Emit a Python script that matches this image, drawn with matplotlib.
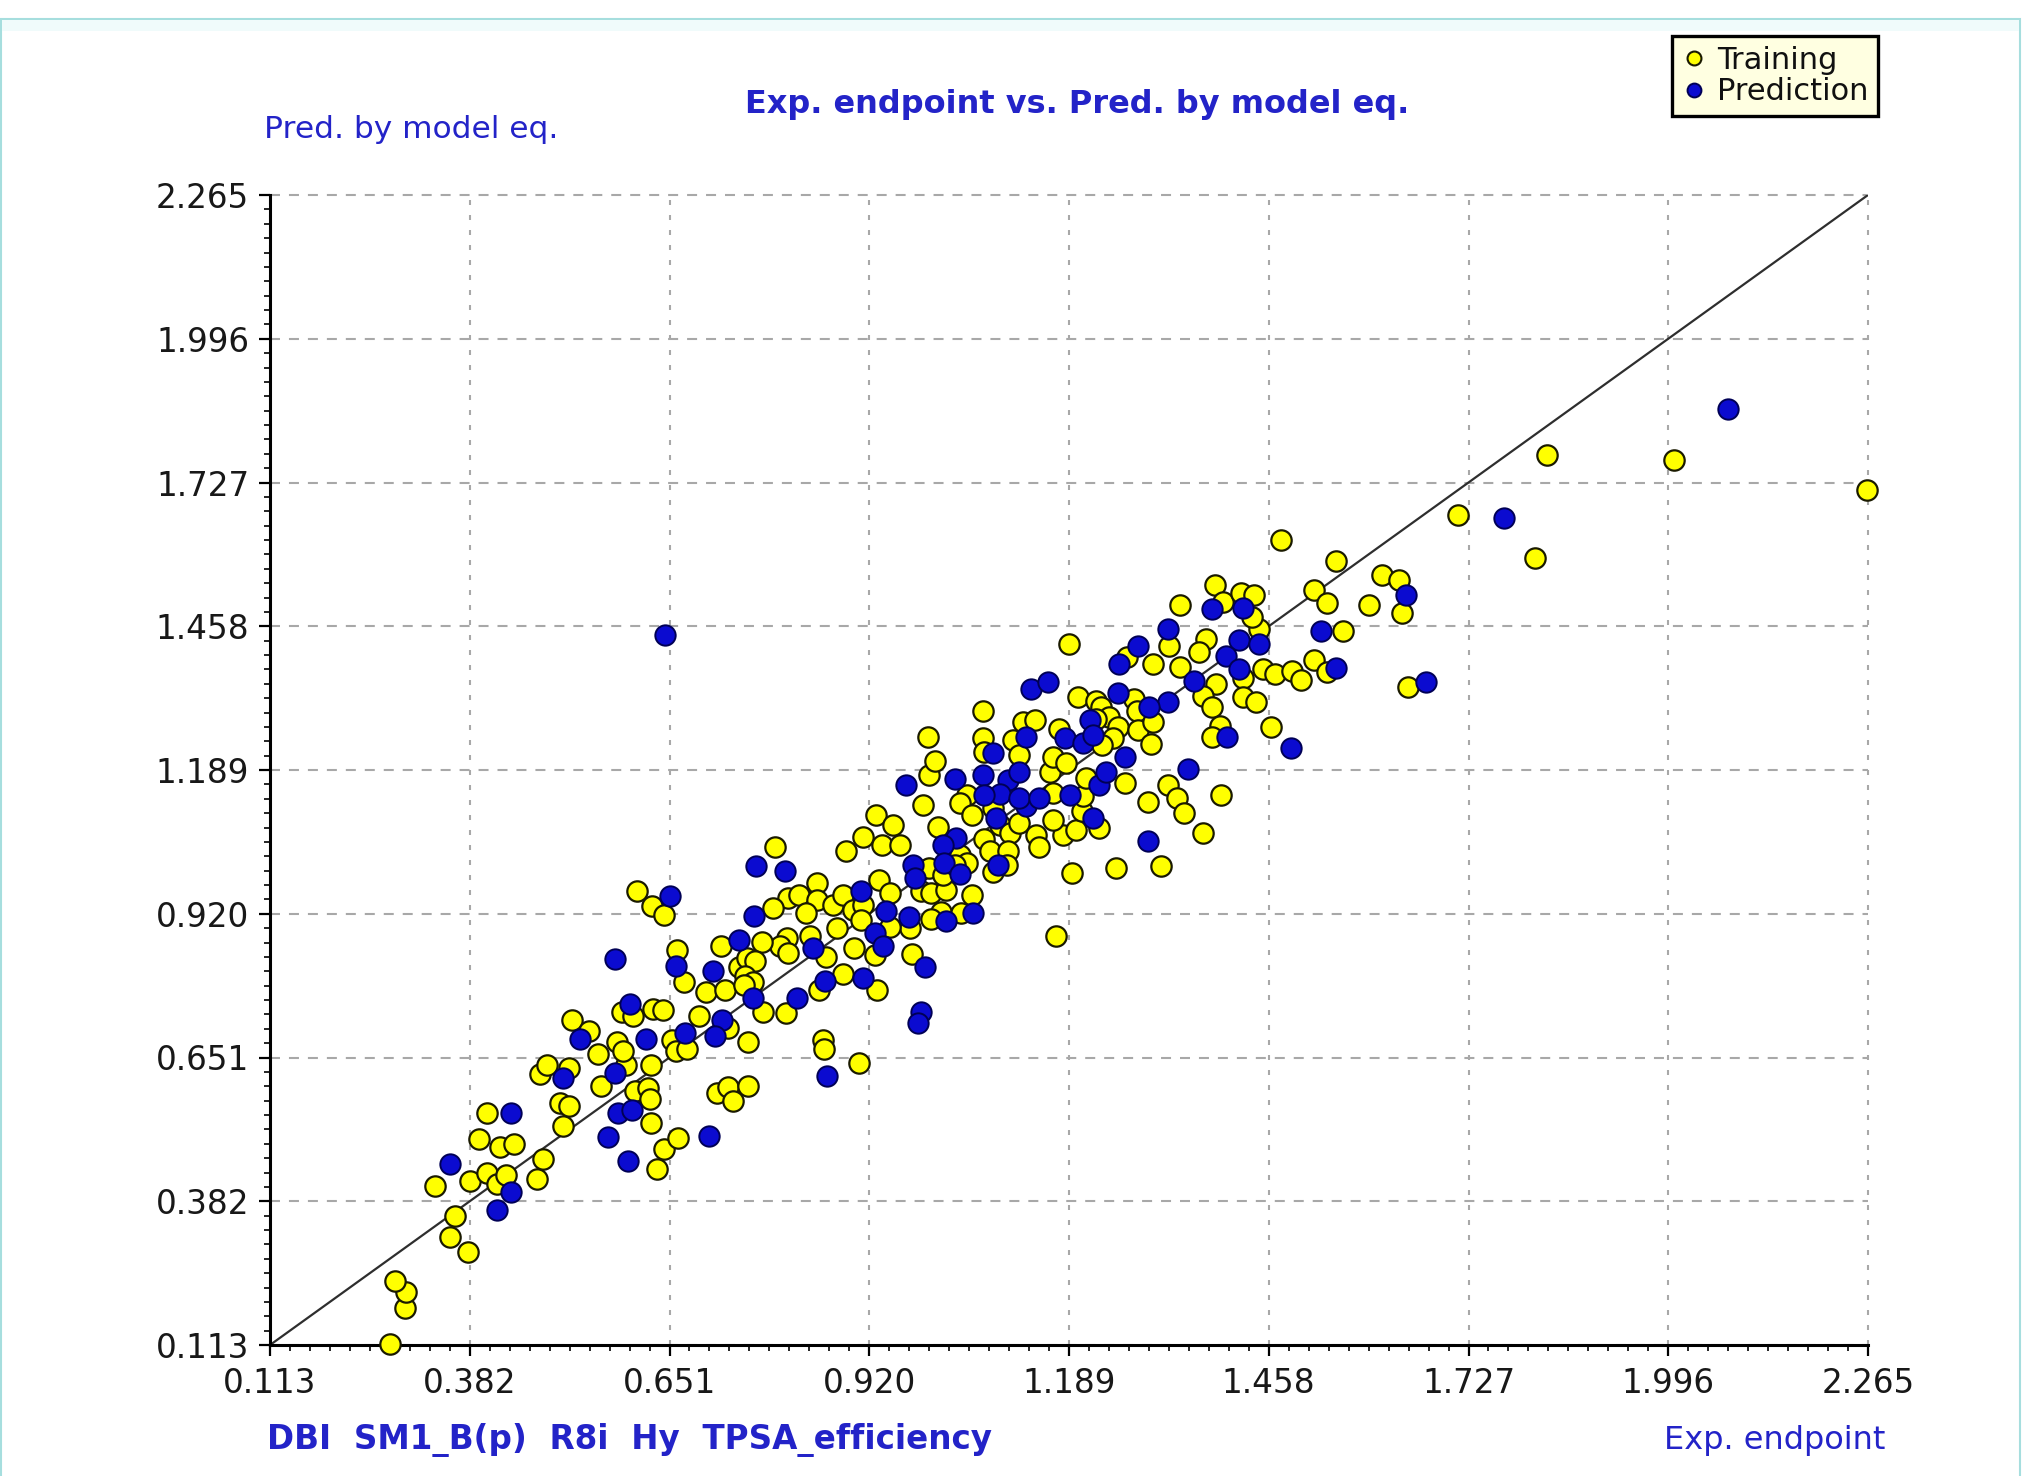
import numpy as np
import matplotlib
matplotlib.use("Agg")
import matplotlib.pyplot as plt
from matplotlib.patches import Rectangle
from matplotlib.lines import Line2D
from matplotlib.ticker import FixedLocator, FormatStrFormatter

# ---------------- data ----------------
tick_values = [0.113, 0.382, 0.651, 0.920, 1.189, 1.458, 1.727, 1.996, 2.265]

train_exp = [
    0.274, 0.295, 0.296, 0.281, 0.379, 0.356, 0.362, 0.335, 0.383, 0.405, 0.419, 0.431, 0.472, 0.481,
    0.395, 0.423, 0.441, 0.405, 0.507, 0.503, 0.516, 0.476, 0.486, 0.516, 0.559, 0.593, 0.604, 0.626,
    0.622, 0.625, 0.626, 0.643, 0.634,
    0.663, 0.715, 0.730, 0.757, 0.736, 0.906,
    0.793, 0.889, 0.911, 0.607, 0.628, 0.643, 0.849, 0.811, 0.826, 0.791, 0.849, 0.835, 0.871, 0.885,
    0.898, 0.912, 0.909, 0.876, 0.900, 0.862, 0.840, 0.809, 0.800, 0.811, 0.775, 0.721, 0.661, 0.670,
    0.700, 0.726, 0.744, 0.755, 0.766, 0.753, 0.764, 0.752, 0.777, 0.808, 0.853, 0.885, 0.858, 0.859,
    0.757, 0.691, 0.730, 0.655, 0.660, 0.674, 0.587, 0.602, 0.629, 0.642, 0.520, 0.542, 0.580, 0.589,
    0.555,
    1.000, 0.992, 0.929, 0.952, 0.937, 0.961, 1.013, 1.051, 1.042, 1.059, 1.087, 1.096, 1.109, 1.122,
    1.075, 1.082, 1.107, 1.042, 1.051, 1.087, 1.105, 1.145, 1.149, 1.181, 1.167, 1.199, 1.207, 1.230,
    1.167, 1.163, 1.208, 1.212, 1.264, 1.295, 1.322, 1.335, 1.344, 1.394, 1.370, 1.193, 1.252, 1.313,
    1.172, 0.933, 0.948, 0.990, 1.003, 1.024, 0.988, 1.001, 1.019, 1.035, 1.058, 1.016, 1.044, 1.003,
    0.975, 0.948, 0.928, 0.977, 0.930,
    1.189, 1.324, 1.373, 1.364, 1.445, 1.302, 1.338, 1.450, 1.423, 1.387, 1.369, 1.382, 1.423, 1.441,
    1.393, 1.382, 1.201, 1.226, 1.232, 1.243, 1.226, 1.255, 1.277, 1.280, 1.282, 1.302, 1.300, 1.248,
    1.176, 1.073, 1.127, 1.143, 1.114, 1.073, 0.999, 1.008, 1.075, 1.122, 1.167, 1.185, 1.234, 1.267,
    1.338, 1.385, 1.396, 1.421, 1.438, 1.435,
    1.713, 1.816, 1.474, 1.548, 1.611, 1.634, 1.637, 1.593, 1.519, 1.536, 1.558, 1.466, 1.489, 1.501,
    1.519, 1.536, 1.646, 1.461,
    1.833, 2.004, 2.264,
]
train_pred = [
    0.115, 0.183, 0.212, 0.232, 0.287, 0.316, 0.354, 0.410, 0.419, 0.435, 0.414, 0.432, 0.424, 0.461,
    0.499, 0.484, 0.489, 0.547, 0.523, 0.565, 0.560, 0.621, 0.637, 0.632, 0.597, 0.637, 0.589, 0.637,
    0.593, 0.574, 0.528, 0.480, 0.443,
    0.500, 0.584, 0.595, 0.598, 0.570, 0.641,
    1.044, 1.038, 1.063, 0.963, 0.934, 0.918, 0.977, 0.949, 0.955, 0.931, 0.946, 0.921, 0.937, 0.955,
    0.927, 0.937, 0.909, 0.893, 0.856, 0.840, 0.878, 0.875, 0.859, 0.847, 0.868, 0.859, 0.853, 0.793,
    0.773, 0.778, 0.821, 0.837, 0.831, 0.803, 0.793, 0.787, 0.737, 0.734, 0.778, 0.807, 0.684, 0.666,
    0.680, 0.728, 0.706, 0.684, 0.664, 0.666, 0.737, 0.728, 0.742, 0.740, 0.722, 0.700, 0.680, 0.663,
    0.657,
    1.180, 1.124, 1.105, 1.087, 1.049, 1.049, 1.082, 1.143, 1.127, 1.104, 1.118, 1.087, 1.071, 1.090,
    1.059, 1.038, 1.037, 1.030, 1.015, 0.999, 1.012, 1.068, 1.044, 1.068, 1.096, 1.077, 1.112, 1.080,
    1.146, 1.186, 1.140, 1.174, 1.165, 1.129, 1.161, 1.137, 1.108, 1.142, 1.071, 0.996, 1.005, 1.010,
    0.878, 0.984, 0.959, 0.962, 0.959, 0.965, 1.002, 1.005, 0.993, 1.012, 0.956, 0.924, 0.921, 0.911,
    0.894, 0.896, 0.843, 0.845, 0.778,
    1.424, 1.421, 1.435, 1.409, 1.452, 1.387, 1.382, 1.378, 1.362, 1.350, 1.328, 1.307, 1.326, 1.316,
    1.271, 1.251, 1.325, 1.319, 1.307, 1.288, 1.285, 1.270, 1.322, 1.300, 1.263, 1.279, 1.237, 1.248,
    1.266, 1.299, 1.279, 1.282, 1.245, 1.248, 1.251, 1.205, 1.223, 1.217, 1.214, 1.202, 1.235, 1.400,
    1.497, 1.535, 1.503, 1.521, 1.516, 1.475,
    1.667, 1.586, 1.619, 1.581, 1.553, 1.544, 1.482, 1.497, 1.525, 1.502, 1.449, 1.368, 1.374, 1.357,
    1.394, 1.372, 1.344, 1.270,
    1.779, 1.770, 1.713,
]

test_exp = [
    0.356, 0.437, 0.438, 0.419, 0.507, 0.577, 0.581, 0.601, 0.568, 0.595,
    0.704, 0.863,
    0.768, 0.806, 0.652, 0.765, 0.909, 0.577, 0.660, 0.709, 0.745, 0.844, 0.912, 0.860, 0.764, 0.823,
    0.722, 0.712, 0.672, 0.620, 0.598, 0.531,
    0.969, 1.035, 1.073, 1.107, 1.122, 1.096, 1.075, 1.131, 1.122, 1.149, 1.190, 1.230, 1.239, 1.349,
    1.221, 1.295, 1.091, 1.037, 1.019, 1.021, 0.979, 1.042, 1.093, 0.981, 0.943, 0.974, 1.024, 1.060,
    0.928, 0.939, 0.995, 0.990, 0.986,
    1.322, 1.282, 1.257, 1.138, 1.161, 1.418, 1.445, 1.400, 1.418, 1.358, 1.255, 1.322, 1.297, 1.217,
    1.183, 1.208, 1.221, 1.131, 1.087, 1.402, 1.264,
    1.381, 1.423,
    1.775, 1.643, 1.528, 1.548, 1.670, 1.488,
    2.076, 0.645,
]
test_pred = [
    0.452, 0.547, 0.399, 0.366, 0.612, 0.622, 0.547, 0.552, 0.503, 0.457,
    0.504, 0.617,
    1.010, 1.000, 0.954, 0.915, 0.963, 0.835, 0.823, 0.812, 0.871, 0.856, 0.800, 0.794, 0.763, 0.763,
    0.722, 0.691, 0.697, 0.685, 0.751, 0.686,
    1.161, 1.173, 1.180, 1.171, 1.186, 1.144, 1.143, 1.121, 1.137, 1.137, 1.143, 1.161, 1.186, 1.190,
    1.099, 1.057, 1.099, 1.062, 1.049, 1.015, 1.012, 0.994, 1.012, 0.987, 0.926, 0.913, 0.906, 0.921,
    0.884, 0.859, 0.821, 0.737, 0.715,
    1.452, 1.421, 1.387, 1.341, 1.354, 1.433, 1.424, 1.402, 1.378, 1.356, 1.334, 1.316, 1.307, 1.282,
    1.248, 1.239, 1.254, 1.251, 1.221, 1.251, 1.214,
    1.491, 1.492,
    1.661, 1.516, 1.450, 1.380, 1.354, 1.230,
    1.865, 1.442,
]

title = "Exp. endpoint vs. Pred. by model eq."
y_label = "Pred. by model eq."
x_label = "Exp. endpoint"
descriptors = "DBI  SM1_B(p)  R8i  Hy  TPSA_efficiency"

# ---------------- style ----------------
W, H = 2024, 1476
fig = plt.figure(figsize=(W / 100, H / 100), dpi=100)
fig.patch.set_facecolor("white")

BLUE_TXT = "#2323c8"
TICK_TXT = "#181818"

# light cyan frame of the window
fig.add_artist(Rectangle((1.5 / W, -0.01), (W - 5) / W, 1 - 19 / H + 0.01,
                         transform=fig.transFigure, fill=False,
                         edgecolor="#a6dede", linewidth=1.5))
fig.add_artist(Rectangle((2.5 / W, 1 - 31 / H), (W - 7) / W, 11 / H,
                         transform=fig.transFigure, facecolor="#f0fbfb",
                         edgecolor="none"))

left, right = 270 / W, 1868 / W
bottom, top = 1 - 1345 / H, 1 - 195 / H
ax = fig.add_axes([left, bottom, right - left, top - bottom])
lo, hi = tick_values[0], tick_values[-1]
ax.set_xlim(lo, hi)
ax.set_ylim(lo, hi)

for s in ("top", "right"):
    ax.spines[s].set_visible(False)
for s in ("left", "bottom"):
    ax.spines[s].set_linewidth(2.2)
    ax.spines[s].set_color("black")

ax.xaxis.set_major_locator(FixedLocator(tick_values))
ax.yaxis.set_major_locator(FixedLocator(tick_values))
minor = np.linspace(lo, hi, 81)
ax.xaxis.set_minor_locator(FixedLocator(minor))
ax.yaxis.set_minor_locator(FixedLocator(minor))
ax.xaxis.set_major_formatter(FormatStrFormatter("%.3f"))
ax.yaxis.set_major_formatter(FormatStrFormatter("%.3f"))
ax.tick_params(which="major", direction="out", length=8, width=1.6, color="black",
               labelsize=23.5, labelcolor=TICK_TXT)
ax.tick_params(which="minor", direction="out", length=4.5, width=1.2, color="black")
ax.tick_params(axis="x", which="major", pad=8)
ax.tick_params(axis="y", which="major", pad=7)

# grid: horizontal dashes longer than vertical dots
ax.set_axisbelow(True)
for t in tick_values:
    ax.axhline(t, color="#a8a8a8", lw=1.5, dashes=(4.8, 4.3), zorder=0.5, clip_on=False)
    ax.axvline(t, color="#a8a8a8", lw=1.5, dashes=(2.4, 4.8), zorder=0.5, clip_on=False)

# identity line
ax.plot([lo, hi], [lo, hi], color="#2e2e2e", lw=1.6, zorder=2)

ax.scatter(train_exp, train_pred, s=215, c="#ffff00", edgecolors="#1a1a00",
           linewidths=1.6, zorder=3, clip_on=False, label="Training")
ax.scatter(test_exp, test_pred, s=215, c="#0b0bd0", edgecolors="#000055",
           linewidths=1.4, zorder=4, clip_on=False, label="Prediction")

# texts
fig.text(1077 / W, 1 - 105 / H, title, ha="center", va="center",
         fontsize=23, fontweight="bold", color=BLUE_TXT)
fig.text(264 / W, 1 - 130 / H, y_label, ha="left", va="center",
         fontsize=22.5, color=BLUE_TXT)
fig.text(267 / W, 1 - 1440 / H, descriptors, ha="left", va="center",
         fontsize=23.5, fontweight="bold", color=BLUE_TXT)
fig.text(1885 / W, 1 - 1440 / H, x_label, ha="right", va="center",
         fontsize=23, color=BLUE_TXT)

# legend box
handles = [
    Line2D([], [], marker="o", ls="none", markersize=10, markerfacecolor="#ffff00",
           markeredgecolor="#1a1a00", markeredgewidth=1.5, label="Training"),
    Line2D([], [], marker="o", ls="none", markersize=10, markerfacecolor="#0b0bd0",
           markeredgecolor="#000055", markeredgewidth=1.4, label="Prediction"),
]
leg = fig.legend(handles=handles, loc="upper right",
                 bbox_to_anchor=(1878 / W, 1 - 36 / H), frameon=True, fancybox=False,
                 fontsize=22, handletextpad=0.35, handlelength=0.8, borderpad=0.32,
                 labelspacing=0.08, borderaxespad=0, borderaxespad_=None) if False else \
      fig.legend(handles=handles, loc="upper right",
                 bbox_to_anchor=(1878 / W, 1 - 36 / H), frameon=True, fancybox=False,
                 fontsize=22, handletextpad=0.35, handlelength=0.8, borderpad=0.32,
                 labelspacing=0.08, borderaxespad=0)
frame = leg.get_frame()
frame.set_facecolor("#ffffe1")
frame.set_edgecolor("black")
frame.set_linewidth(2.4)
frame.set_alpha(1)
for t in leg.get_texts():
    t.set_color("#111111")

fig.savefig("out.png", dpi=100, facecolor="white")
